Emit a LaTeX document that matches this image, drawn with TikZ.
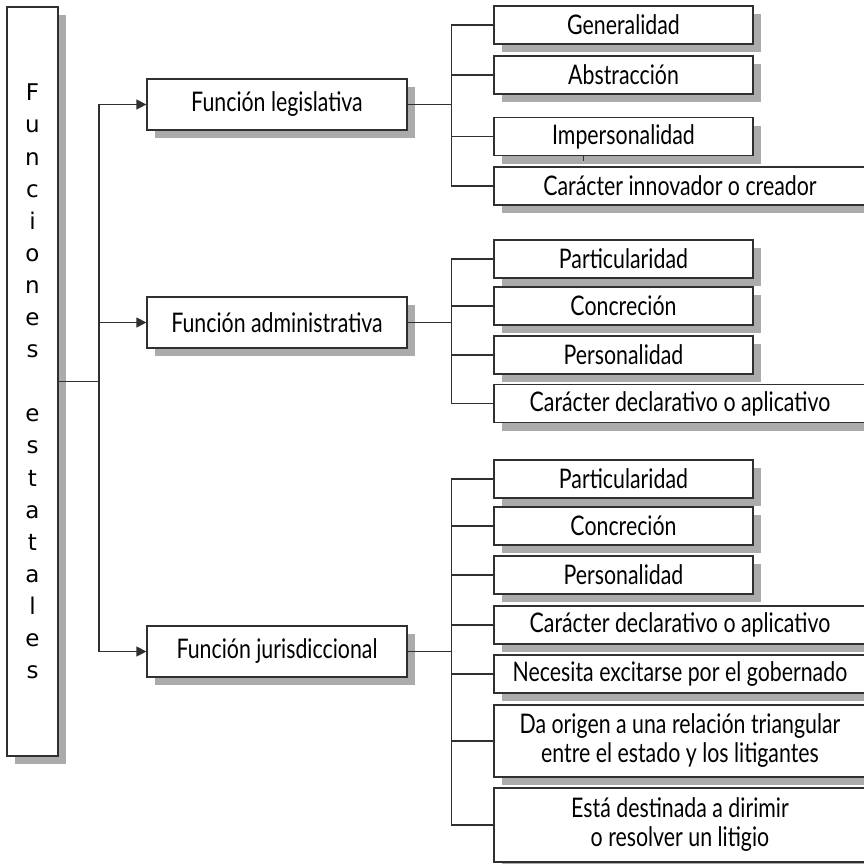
\documentclass[tikz,border=0pt]{standalone}
\usepackage{fontspec}
\setmainfont{Lato}[FakeStretch=0.79]
\newfontfamily\letterfont{DejaVu Sans}
\usetikzlibrary{shadows,arrows.meta}
\definecolor{shadowgray}{HTML}{ABABAB}
\definecolor{linegray}{HTML}{303030}

\begin{document}
\begin{tikzpicture}[x=1pt, y=-1pt,
    shade box/.style={rectangle, draw=linegray, line width=1.2pt, fill=white, inner sep=0pt, align=center,
        font=\fontsize{27}{29}\selectfont,
        drop shadow={shadow xshift=8pt, shadow yshift=-8pt, fill=shadowgray, opacity=1}},
    funcbox/.style={shade box, minimum width=260pt, minimum height=51pt},
    featbox/.style={shade box, minimum width=259pt, minimum height=38pt},
    widebox/.style={shade box, minimum width=372pt, minimum height=38pt},
    link/.style={draw=linegray, line width=1.2pt},
    arrow/.style={link, -{Triangle[length=10pt, width=10pt]}}
]
    \clip (0,0) rectangle (864,863);
    \fill[white] (0,0) rectangle (864,863);

    % Left column
    \node[shade box, minimum width=51pt, minimum height=749pt,
        font=\letterfont\fontsize{23}{32.1}\selectfont] (funcs) at (32.5,381.5)
        {F\\u\\n\\c\\i\\o\\n\\e\\s\\~\\e\\s\\t\\a\\t\\a\\l\\e\\s};

    % Functions
    \node[funcbox] (leg) at (277,104.5) {Función legislativa};
    \node[funcbox] (adm) at (277,322.5) {Función administrativa};
    \node[funcbox] (jur) at (277,651.5) {Función jurisdiccional};

    % Legislativa features
    \node[featbox] (leggen) at (623.5,25) {Generalidad};
    \node[featbox] (legabs) at (623.5,75) {Abstracción};
    \node[featbox] (legimp) at (623.5,136.5) {Impersonalidad};
    \node[widebox] (leginn) at (680,186) {Carácter innovador o creador};

    % Administrativa features
    \node[featbox] (admpar) at (623.5,259) {Particularidad};
    \node[featbox] (admcon) at (623.5,306) {Concreción};
    \node[featbox] (admper) at (623.5,355) {Personalidad};
    \node[widebox] (admdec) at (680,403.5) {Carácter declarativo o aplicativo};

    % Jurisdiccional features
    \node[featbox] (jurpar) at (623.5,479) {Particularidad};
    \node[featbox] (jurcon) at (623.5,526) {Concreción};
    \node[featbox] (jurper) at (623.5,575) {Personalidad};
    \node[widebox] (jurdec) at (680,625) {Carácter declarativo o aplicativo};
    \node[widebox] (jurnec) at (680,674) {Necesita excitarse por el gobernado};
    \node[widebox, minimum height=72pt] (jurori) at (680,741)
        {Da origen a una relación triangular\\entre el estado y los litigantes};
    \node[widebox, minimum height=74pt] (jurdir) at (680,825)
        {Está destinada a dirimir\\o resolver un litigio};

    % Trunk
    \coordinate (trunk) at (99,381.5);
    \draw[link] (funcs.east) -- (trunk);
    \draw[arrow] (trunk) |- (leg.west);
    \draw[arrow] (trunk) |- (jur.west);
    \draw[arrow] (trunk |- adm.west) -- (adm.west);

    % Brackets
    \coordinate (legfork) at (451.5,104.5);
    \coordinate (admfork) at (451.5,322.5);
    \coordinate (jurfork) at (451.5,651.5);
    \draw[link] (leg.east) -- (legfork);
    \draw[link] (adm.east) -- (admfork);
    \draw[link] (jur.east) -- (jurfork);
    \foreach \f in {leggen,legabs,legimp,leginn}
        \draw[link] (legfork) |- (\f.west);
    \foreach \f in {admpar,admcon,admper,admdec}
        \draw[link] (admfork) |- (\f.west);
    \foreach \f in {jurpar,jurcon,jurper,jurdec,jurnec,jurori,jurdir}
        \draw[link] (jurfork) |- (\f.west);

    % stray tick
    \draw[link, line width=0.8pt] (legimp.south -| 583,0) -- ++(0,5);
\end{tikzpicture}
\end{document}
